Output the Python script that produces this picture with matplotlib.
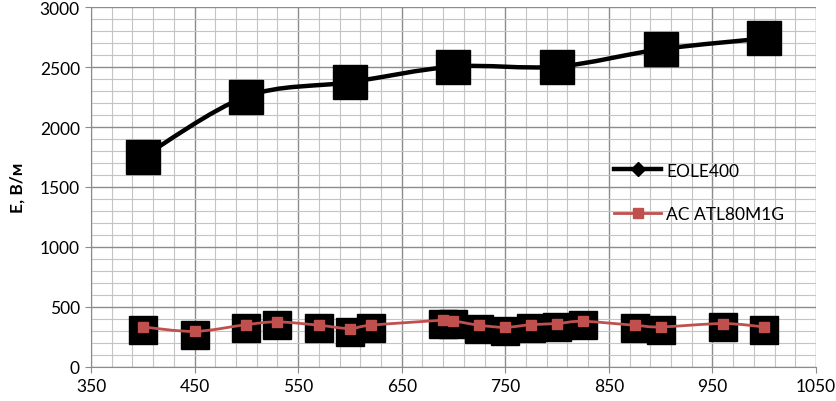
import numpy as np
import matplotlib.pyplot as plt
from matplotlib.path import Path
from matplotlib.patches import PathPatch
from matplotlib.lines import Line2D

plt.rcParams['font.family'] = ['Lato', 'DejaVu Sans']

# EOLE400 (black, smoothed line)
x_eole = [400, 500, 600, 700, 800, 900, 1000]
y_eole = [1750, 2255, 2375, 2505, 2505, 2650, 2740]

# AC ATL80M1G (red)
x_ac = [400, 450, 500, 530, 570, 600, 620, 690, 700, 725, 750, 775, 800, 825, 875, 900, 960, 1000]
y_ac = [332, 295, 351, 374, 346, 318, 346, 388, 382, 346, 329, 351, 360, 379, 346, 332, 360, 332]

# black squares behind the red ones
y_ac_black = [305, 265, 325, 345, 320, 290, 320, 360, 355, 318, 300, 322, 332, 350, 320, 305, 333, 305]


def smooth_path(x, y, t=1 / 6):
    # Excel-like smoothed line as cubic Bezier segments
    x = np.asarray(x, float)
    y = np.asarray(y, float)
    pts = np.column_stack([x, y])
    verts = [pts[0]]
    codes = [Path.MOVETO]
    n = len(pts)
    for i in range(n - 1):
        p0 = pts[max(i - 1, 0)]
        p1 = pts[i]
        p2 = pts[i + 1]
        p3 = pts[min(i + 2, n - 1)]
        c1 = p1 + (p2 - p0) * t
        c2 = p2 - (p3 - p1) * t
        verts += [c1, c2, p2]
        codes += [Path.CURVE4] * 3
    return Path(verts, codes)


fig = plt.figure(figsize=(8.37, 4.02), dpi=100)
ax = fig.add_axes([91 / 837, 34.3 / 402, (816 - 91) / 837, (367.7 - 8.3) / 402])

ax.set_xlim(350, 1050)
ax.set_ylim(0, 3000)
ax.set_xticks(np.arange(350, 1051, 100))
ax.set_xticks(np.arange(350, 1051, 20), minor=True)
ax.set_yticks(np.arange(0, 3001, 500))
ax.set_yticks(np.arange(0, 3001, 100), minor=True)
ax.grid(True, which='major', color='#8c8c8c', linewidth=1.0)
ax.grid(True, which='minor', color='#c4c4c4', linewidth=0.8)
ax.set_axisbelow(True)
ax.tick_params(which='minor', length=0)
ax.tick_params(which='major', length=4, color='#8c8c8c', labelsize=12.5, pad=4)
for s in ['top', 'right']:
    ax.spines[s].set_visible(False)
for s in ['left', 'bottom']:
    ax.spines[s].set_color('#8c8c8c')

ax.add_patch(PathPatch(smooth_path(x_eole, y_eole), facecolor='none',
                       edgecolor='black', linewidth=3.2, zorder=3))
ax.plot(x_eole, y_eole, linestyle='none', marker='s', markersize=24,
        color='black', zorder=4)

ax.plot(x_ac, y_ac_black, linestyle='none', marker='s', markersize=20,
        color='black', zorder=4)
ax.add_patch(PathPatch(smooth_path(x_ac, y_ac), facecolor='none',
                       edgecolor='#c0504d', linewidth=2, zorder=5))
ax.plot(x_ac, y_ac, linestyle='none', marker='s', markersize=7.5,
        color='#c0504d', zorder=6)

ax.set_ylabel('E, В/м', fontsize=12.5, fontweight='bold', labelpad=10)

handles = [
    Line2D([], [], color='black', linewidth=3.2, marker='D', markersize=7),
    Line2D([], [], color='#c0504d', linewidth=2, marker='s', markersize=7.5),
]
ax.legend(handles, ['EOLE400', 'AC ATL80M1G'], loc='center left',
          bbox_to_anchor=(0.7, 0.485), frameon=False, fontsize=12.5,
          handlelength=2.7, handletextpad=0.3, labelspacing=1.6)

fig.savefig('out.png', dpi=100)
